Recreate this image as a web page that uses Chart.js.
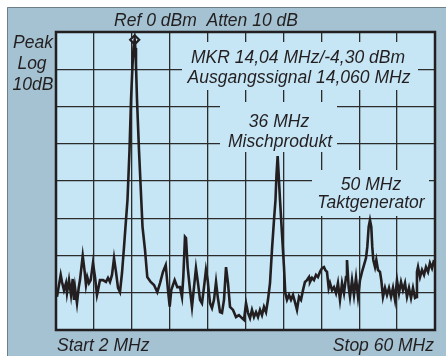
<!DOCTYPE html>
<html>
<head>
<meta charset="utf-8">
<script src="https://cdn.jsdelivr.net/npm/chart.js@4"></script>
<style>
  html, body { margin: 0; padding: 0; background: #fff; }
  canvas { display: block; }
</style>
</head>
<body>
<canvas id="spectrum" width="446" height="356"></canvas>
<script>
/* Spektrum: Start 2 MHz, Stop 60 MHz, Ref 0 dBm, 10 dB/div */

const freqMHz = [
  2.15, 2.72, 2.92, 3.22, 3.53, 3.68, 3.99, 4.30, 4.56, 4.75, 4.91, 5.21, 5.47, 5.67, 6.09, 6.39,
  6.59, 6.79, 7.05, 7.31, 7.66, 7.97, 8.27, 8.43, 8.73, 9.19, 9.65, 9.96, 10.26, 10.57, 10.88, 11.18,
  11.49, 11.79, 12.10, 12.41, 12.71, 12.94, 13.25, 13.48, 13.71, 13.86, 14.04, 14.14, 14.24, 14.40,
  14.70, 15.05, 15.24, 15.62, 15.97, 16.49, 17.00, 17.50, 17.92, 18.37, 18.79, 19.14, 19.40, 19.64,
  20.16, 20.56, 20.98, 21.28, 21.48, 21.74, 21.89, 22.15, 22.51, 22.81, 23.12, 23.42, 23.73, 24.04,
  24.34, 24.65, 24.95, 25.21, 25.57, 25.87, 26.18, 26.49, 26.75, 27.10, 27.40, 27.71, 28.02, 28.32,
  28.63, 29.09, 29.55, 30.00, 30.46, 30.77, 31.08, 31.38, 31.69, 31.99, 32.30, 32.61, 32.91, 33.22,
  33.52, 33.83, 34.14, 34.44, 34.75, 35.05, 35.36, 35.59, 35.74, 35.92, 36.08, 36.28, 36.58, 36.89,
  37.09, 37.35, 37.66, 37.96, 38.27, 38.57, 38.88, 39.19, 39.49, 39.80, 40.10, 40.41, 40.72, 40.87,
  41.18, 41.48, 41.79, 42.09, 42.40, 42.71, 43.01, 43.21, 43.47, 43.73, 43.93, 44.24, 44.54, 44.85,
  45.15, 45.46, 45.77, 46.07, 46.38, 46.53, 46.79, 46.99, 47.30, 47.60, 47.91, 48.22, 48.52, 48.83,
  49.13, 49.44, 49.64, 49.85, 50.05, 50.25, 50.40, 50.56, 50.82, 51.02, 51.28, 51.58, 51.78, 52.04,
  52.35, 52.65, 52.96, 53.27, 53.57, 53.88, 54.18, 54.49, 54.80, 55.10, 55.41, 55.71, 56.02, 56.33,
  56.63, 56.94, 57.20, 57.24, 57.40, 57.70, 58.01, 58.32, 58.62, 58.93, 59.23, 59.54, 59.85
];

const levelDbm = [
  -71.1, -65.2, -67.1, -69.3, -67.4, -70.1, -66.6, -70.6, -66.3, -71.9, -68.7, -72.8, -68.7, -66.6, -60.1, -64.4,
  -67.9, -65.8, -67.4, -66.6, -62.0, -65.8, -70.6, -69.3, -66.6, -66.6, -67.1, -66.0, -67.1, -65.2, -60.7, -64.4,
  -68.7, -69.8, -64.7, -57.7, -50.5, -45.1, -31.7, -18.3, -8.9, -4.3, -2.1, -4.3, -8.9, -18.3,
  -31.7, -45.1, -52.3, -58.5, -65.8, -67.1, -67.9, -69.8, -67.4, -64.4, -62.6, -69.3, -73.7, -69.3,
  -66.6, -68.5, -68.5, -71.1, -65.8, -55.0, -55.3, -63.1, -69.3, -73.8, -68.5, -63.4, -67.4, -71.9,
  -72.8, -68.5, -63.9, -66.6, -72.8, -74.1, -71.9, -67.1, -71.1, -75.2, -75.4, -71.9, -63.1, -67.4,
  -73.8, -74.6, -76.5, -76.0, -76.8, -77.3, -72.8, -75.4, -76.8, -74.6, -76.5, -75.2, -76.5, -74.6,
  -76.0, -73.8, -75.2, -71.9, -67.4, -58.5, -50.5, -45.1, -38.4, -33.3, -38.4, -45.1, -54.0, -63.1,
  -70.1, -71.9, -70.6, -71.9, -70.6, -72.5, -74.6, -71.1, -71.9, -69.3, -67.1, -66.6, -65.8, -67.1,
  -66.0, -66.6, -65.2, -65.8, -64.4, -63.4, -63.1, -63.9, -64.4, -68.7, -67.4, -69.3, -68.5, -70.1,
  -67.4, -71.9, -67.4, -70.1, -65.8, -61.2, -68.5, -71.1, -66.6, -70.6, -66.0, -71.1, -66.6, -64.4,
  -62.6, -60.7, -57.7, -52.3, -50.5, -52.3, -57.7, -61.2, -63.1, -61.2, -63.9, -64.4, -66.6, -71.1,
  -68.7, -70.6, -68.7, -71.1, -68.7, -71.9, -66.6, -70.1, -67.1, -69.3, -67.4, -71.1, -68.7, -71.4,
  -68.7, -71.4, -71.1, -64.4, -63.1, -65.8, -63.9, -65.2, -63.1, -64.4, -62.0, -63.4, -61.2
];

// Marker (MKR) am Ausgangssignal
const markerFreq = [14.04];
const markerLevel = [-2.1];

// Rasterlinien: 10 Teilungen horizontal, 8 vertikal
const xGrid = [2, 7.8, 13.6, 19.4, 25.2, 31, 36.8, 42.6, 48.4, 54.2, 60];
const yGrid = [-80, -70, -60, -50, -40, -30, -20, -10, 0];

const frameBg = '#a4c2d2';
const plotBg = '#c6e6f6';
const ink = '#231f20';
const FONT = 'italic 17.5px "Liberation Sans", Arial, sans-serif';

// Beschriftungen im Raster, mit Hintergrundkasten
const boxes = [
  { rect: [182, 42, 236, 48], lines: [['MKR 14,04 MHz/-4,30 dBm', 298, 63], ['Ausgangssignal 14,060 MHz', 299, 83]] },
  { rect: [220, 102, 117, 50], lines: [['36 MHz', 279, 127], ['Mischprodukt', 280, 147]] },
  { rect: [312, 170, 117, 46], lines: [['50 MHz', 371, 190], ['Taktgenerator', 371, 208]] }
];

const panel = {
  id: 'panel',
  beforeDraw(chart) {
    const ctx = chart.ctx, a = chart.chartArea;
    ctx.save();
    ctx.fillStyle = '#fff';
    ctx.fillRect(0, 0, chart.width, chart.height);
    ctx.fillStyle = frameBg;
    ctx.fillRect(7, 7, chart.width - 7, chart.height - 7);
    ctx.strokeStyle = '#6d7f88';
    ctx.lineWidth = 1;
    ctx.beginPath();
    ctx.moveTo(7.5, chart.height);
    ctx.lineTo(7.5, 7.5);
    ctx.lineTo(chart.width, 7.5);
    ctx.stroke();
    ctx.fillStyle = plotBg;
    ctx.fillRect(a.left, a.top, a.right - a.left, a.bottom - a.top);

    ctx.fillStyle = ink;
    ctx.font = FONT;
    ctx.textBaseline = 'alphabetic';
    ctx.textAlign = 'center';
    ctx.fillText('Ref 0 dBm  Atten 10 dB', 206, 26);
    ctx.fillText('Peak', 33, 48);
    ctx.fillText('Log', 32, 69);
    ctx.fillText('10dB', 33, 90);
    ctx.textAlign = 'left';
    ctx.fillText('Start 2 MHz', 57, 351);
    ctx.textAlign = 'right';
    ctx.fillText('Stop 60 MHz', 434, 351);
    ctx.restore();
  },
  beforeDatasetsDraw(chart) {
    const ctx = chart.ctx;
    ctx.save();
    ctx.font = FONT;
    ctx.textAlign = 'center';
    ctx.textBaseline = 'alphabetic';
    boxes.forEach(b => {
      ctx.fillStyle = plotBg;
      ctx.fillRect(b.rect[0], b.rect[1], b.rect[2], b.rect[3]);
      ctx.fillStyle = ink;
      b.lines.forEach(l => ctx.fillText(l[0], l[1], l[2]));
    });
    ctx.restore();
  },
  afterDraw(chart) {
    const ctx = chart.ctx, a = chart.chartArea;
    ctx.save();
    ctx.strokeStyle = ink;
    ctx.lineWidth = 2.5;
    ctx.strokeRect(a.left, a.top, a.right - a.left, a.bottom - a.top);
    ctx.restore();
  }
};

new Chart(document.getElementById('spectrum'), {
  type: 'line',
  data: {
    datasets: [
      {
        data: freqMHz.map((f, i) => ({ x: f, y: levelDbm[i] })),
        borderColor: ink,
        borderWidth: 2.6,
        pointRadius: 0,
        tension: 0,
        fill: false
      },
      {
        data: markerFreq.map((f, i) => ({ x: f, y: markerLevel[i] })),
        showLine: false,
        pointStyle: 'rectRot',
        pointRadius: 4.5,
        pointBackgroundColor: plotBg,
        pointBorderColor: ink,
        pointBorderWidth: 2.2
      }
    ]
  },
  options: {
    responsive: false,
    animation: false,
    layout: { padding: { left: 56, top: 32, right: 11, bottom: 26 } },
    plugins: { legend: { display: false }, tooltip: { enabled: false } },
    scales: {
      x: {
        type: 'linear',
        min: 2,
        max: 60,
        afterBuildTicks: s => { s.ticks = xGrid.map(v => ({ value: v })); },
        ticks: { display: false },
        grid: { color: '#2b2b2b', lineWidth: 1.3, drawTicks: false },
        border: { display: false }
      },
      y: {
        min: -80,
        max: 0,
        afterBuildTicks: s => { s.ticks = yGrid.map(v => ({ value: v })); },
        ticks: { display: false },
        grid: { color: '#2b2b2b', lineWidth: 1.3, drawTicks: false },
        border: { display: false }
      }
    }
  },
  plugins: [panel]
});
</script>
</body>
</html>
